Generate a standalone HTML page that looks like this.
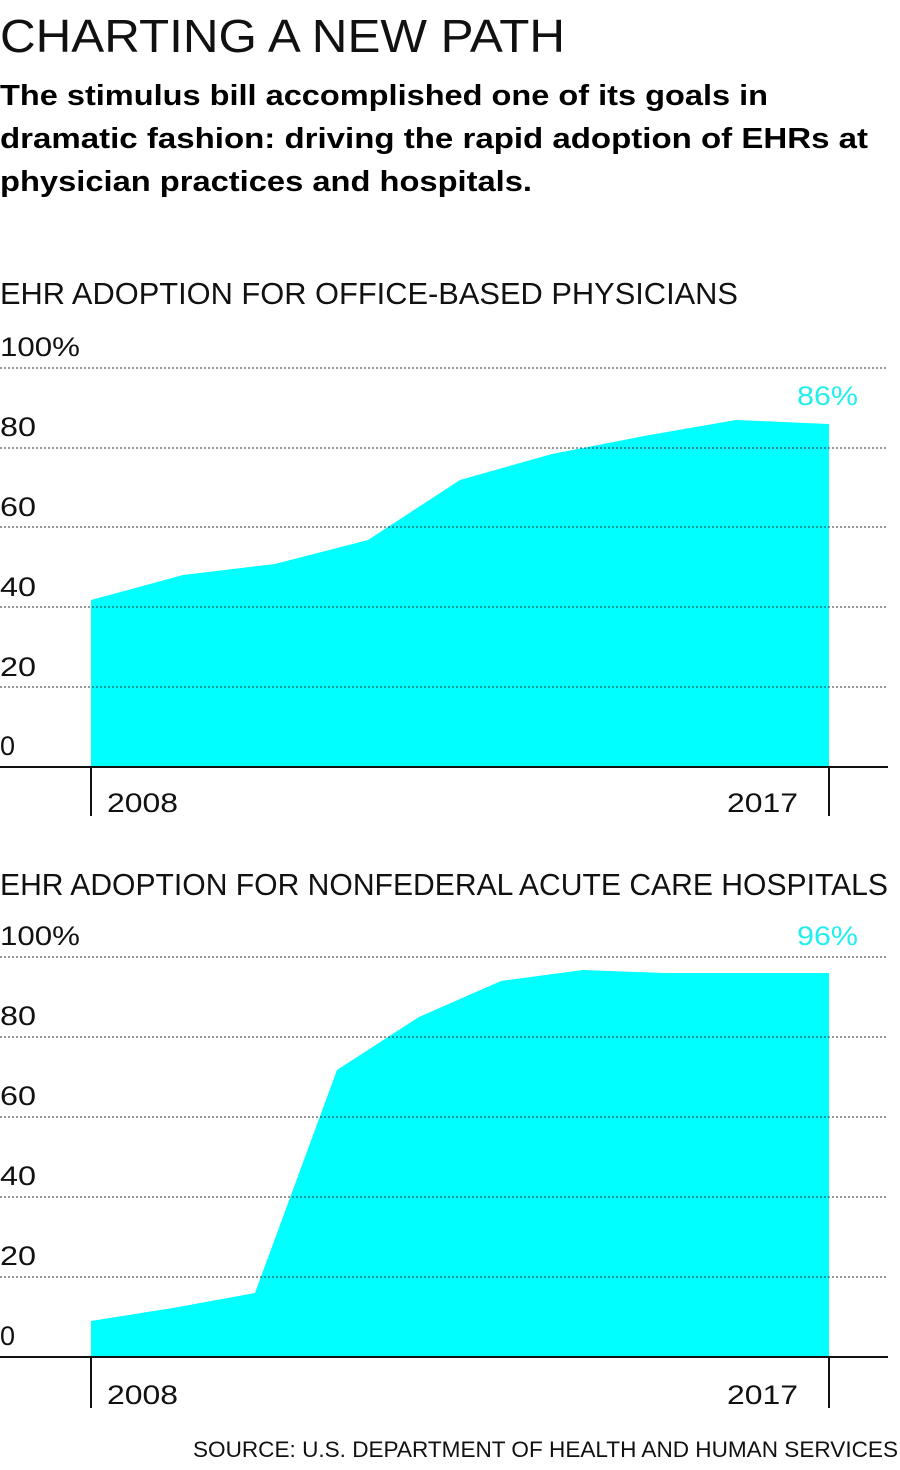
<!DOCTYPE html>
<html><head><style>
body{margin:0;background:#fff;width:900px;height:1470px;overflow:hidden;font-family:"Liberation Sans",sans-serif}
svg{position:absolute;left:0;top:0}
</style></head><body>
<svg width="900" height="1470" viewBox="0 0 900 1470" font-family="Liberation Sans, sans-serif">
<text x="0" y="52" font-size="46" font-weight="300" fill="#111" textLength="565" lengthAdjust="spacingAndGlyphs">CHARTING A NEW PATH</text>
<g font-size="29" font-weight="bold" fill="#000">
<text x="0" y="105" textLength="768" lengthAdjust="spacingAndGlyphs">The stimulus bill accomplished one of its goals in</text>
<text x="0" y="148" textLength="868" lengthAdjust="spacingAndGlyphs">dramatic fashion: driving the rapid adoption of EHRs at</text>
<text x="0" y="191" textLength="532" lengthAdjust="spacingAndGlyphs">physician practices and hospitals.</text>
</g>
<text x="0" y="304" font-size="31" fill="#111" textLength="738" lengthAdjust="spacingAndGlyphs">EHR ADOPTION FOR OFFICE-BASED PHYSICIANS</text>
<g font-size="27" fill="#111">
<text x="0" y="356" textLength="80" lengthAdjust="spacingAndGlyphs">100%</text><text x="0" y="436" textLength="36" lengthAdjust="spacingAndGlyphs">80</text><text x="0" y="516" textLength="36" lengthAdjust="spacingAndGlyphs">60</text><text x="0" y="596" textLength="36" lengthAdjust="spacingAndGlyphs">40</text><text x="0" y="676" textLength="36" lengthAdjust="spacingAndGlyphs">20</text><text x="0" y="755">0</text>
</g>
<polygon points="91,767 91,600 183,575 275,564 368,540 460,480 552,454 644,436 736,420 829,424 829,767" fill="#00ffff"/>
<g stroke="#333" stroke-width="1" stroke-dasharray="2,2">
<line x1="0" y1="368" x2="888" y2="368"/><line x1="0" y1="448" x2="888" y2="448"/><line x1="0" y1="527" x2="888" y2="527"/><line x1="0" y1="607" x2="888" y2="607"/><line x1="0" y1="687" x2="888" y2="687"/>
</g>
<g stroke="#111" stroke-width="2"><line x1="0" y1="767" x2="888" y2="767"/><line x1="91" y1="767" x2="91" y2="816"/><line x1="829" y1="767" x2="829" y2="816"/></g>
<text x="107" y="812" font-size="27" fill="#111" textLength="71" lengthAdjust="spacingAndGlyphs">2008</text><text x="727" y="812" font-size="27" fill="#111" textLength="71" lengthAdjust="spacingAndGlyphs">2017</text>
<text x="797" y="405" font-size="27" fill="#2ee" textLength="61" lengthAdjust="spacingAndGlyphs">86%</text>

<text x="0" y="895" font-size="31" fill="#111" textLength="888" lengthAdjust="spacingAndGlyphs">EHR ADOPTION FOR NONFEDERAL ACUTE CARE HOSPITALS</text>
<g font-size="27" fill="#111">
<text x="0" y="945" textLength="80" lengthAdjust="spacingAndGlyphs">100%</text><text x="0" y="1025" textLength="36" lengthAdjust="spacingAndGlyphs">80</text><text x="0" y="1105" textLength="36" lengthAdjust="spacingAndGlyphs">60</text><text x="0" y="1185" textLength="36" lengthAdjust="spacingAndGlyphs">40</text><text x="0" y="1265" textLength="36" lengthAdjust="spacingAndGlyphs">20</text><text x="0" y="1345">0</text>
</g>
<polygon points="91,1357 91,1321 173,1308 255,1293 337,1070 419,1017 501,981 583,970 665,973 747,973 829,973 829,1357" fill="#00ffff"/>
<g stroke="#333" stroke-width="1" stroke-dasharray="2,2">
<line x1="0" y1="957" x2="888" y2="957"/><line x1="0" y1="1037" x2="888" y2="1037"/><line x1="0" y1="1117" x2="888" y2="1117"/><line x1="0" y1="1197" x2="888" y2="1197"/><line x1="0" y1="1277" x2="888" y2="1277"/>
</g>
<g stroke="#111" stroke-width="2"><line x1="0" y1="1357" x2="888" y2="1357"/><line x1="91" y1="1357" x2="91" y2="1408"/><line x1="829" y1="1357" x2="829" y2="1408"/></g>
<text x="107" y="1404" font-size="27" fill="#111" textLength="71" lengthAdjust="spacingAndGlyphs">2008</text><text x="727" y="1404" font-size="27" fill="#111" textLength="71" lengthAdjust="spacingAndGlyphs">2017</text>
<text x="797" y="945" font-size="27" fill="#2ee" textLength="61" lengthAdjust="spacingAndGlyphs">96%</text>
<text x="193" y="1457" font-size="22" fill="#111" textLength="705" lengthAdjust="spacingAndGlyphs">SOURCE: U.S. DEPARTMENT OF HEALTH AND HUMAN SERVICES</text>
</svg>
</body></html>
